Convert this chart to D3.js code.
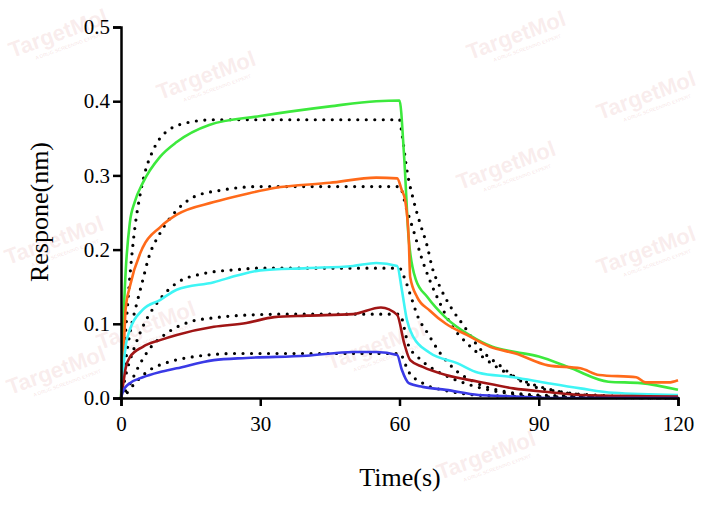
<!DOCTYPE html>
<html><head><meta charset="utf-8">
<script src="https://d3js.org/d3.v7.min.js"></script>
<style>body{margin:0;background:#fff}</style></head>
<body><svg id="c" width="716" height="506"></svg>
<script>
const xTicks=[0,30,60,90,120];
const yTicks=[0,0.1,0.2,0.3,0.4,0.5];
const seriesNames=["green","orange","cyan","darkred","blue"];
const green=[[0,0],[0.5,0.1],[1,0.17],[1.9,0.236],[3,0.265],[4.7,0.29],[8.4,0.325],[12,0.345],[19,0.368],[30,0.38],[45,0.393],[55,0.4],[60,0.401],[61,0.325],[62,0.213],[63.5,0.16],[66,0.136],[70,0.108],[75,0.085],[80,0.069],[85,0.062],[90,0.056],[97,0.04],[105,0.022],[112,0.02],[120,0.011]];
const orange=[[0,0],[0.5,0.05],[1,0.12],[1.9,0.15],[4.7,0.203],[8.4,0.23],[12,0.247],[20,0.264],[27,0.275],[33,0.283],[45,0.29],[55,0.297],[59.5,0.296],[60.5,0.28],[61.2,0.267],[62,0.213],[62.3,0.163],[63.8,0.136],[66.5,0.118],[70,0.1],[74.5,0.085],[79.5,0.069],[85,0.06],[92,0.044],[99,0.04],[103,0.031],[111,0.028],[113,0.021],[118,0.021],[120,0.024]];
const cyan=[[0,0],[0.5,0.04],[1,0.07],[1.9,0.092],[4.7,0.119],[8.4,0.132],[12,0.146],[20,0.156],[25,0.165],[30,0.172],[40,0.175],[50,0.178],[55,0.182],[59.5,0.178],[60.5,0.146],[61.6,0.105],[63,0.082],[66.5,0.061],[72.4,0.047],[77,0.034],[84.5,0.028],[92,0.02],[99,0.013],[106,0.007],[120,0.004]];
const darkred=[[0,0],[0.5,0.02],[1,0.04],[1.9,0.055],[4.7,0.069],[8.4,0.078],[12,0.085],[20,0.096],[27,0.101],[33,0.109],[40,0.111],[50,0.113],[56,0.122],[59.5,0.112],[61,0.074],[62.3,0.051],[65,0.042],[70,0.031],[77,0.022],[84.5,0.013],[92,0.008],[99,0.004],[120,0.002]];
const blue=[[0,0],[0.5,0.01],[1,0.015],[1.9,0.02],[4.7,0.028],[8.4,0.035],[12,0.04],[20,0.051],[27,0.054],[40,0.057],[50,0.062],[55,0.062],[59.5,0.058],[60.5,0.038],[62,0.02],[65,0.015],[70,0.011],[77,0.004],[85,0.002],[92,0],[120,0]];
const fitGreen=[[0,0],[1,0.09],[2,0.17],[3,0.23],[4,0.27],[5,0.3],[7,0.335],[10,0.36],[15,0.372],[20,0.375],[60,0.375],[60.5,0.357],[61.6,0.307],[63,0.267],[64.4,0.236],[66,0.204],[67,0.177],[68.7,0.15],[71,0.123],[74,0.096],[77,0.069],[82,0.042],[87,0.02],[95,0.008],[105,0.003],[120,0]];
const fitOrange=[[0,0],[1,0.05],[2,0.09],[3.3,0.125],[4.7,0.159],[6,0.19],[8.4,0.222],[12,0.253],[15.7,0.271],[21.5,0.28],[30,0.285],[60,0.285],[61.6,0.253],[63,0.226],[64.7,0.19],[66.5,0.159],[68.7,0.128],[71,0.1],[74.5,0.074],[78,0.055],[83,0.034],[88,0.02],[95,0.008],[105,0.002],[120,0]];
const fitCyan=[[0,0],[1,0.03],[3,0.07],[5,0.1],[8,0.13],[12,0.155],[18,0.168],[25,0.173],[30,0.175],[60,0.175],[61,0.163],[62.5,0.136],[64,0.109],[66,0.088],[68.7,0.061],[72,0.038],[76,0.022],[81,0.011],[90,0.004],[120,0]];
const fitRed=[[0,0],[2,0.02],[4,0.045],[6,0.065],[10,0.088],[15,0.103],[20,0.108],[28,0.112],[35,0.113],[60,0.113],[62,0.07],[64,0.055],[67,0.04],[70,0.03],[75,0.018],[80,0.01],[90,0.003],[120,0]];
const fitBlue=[[0,0],[1,0.005],[3,0.02],[6,0.037],[10,0.048],[15,0.055],[25,0.06],[60,0.06],[62,0.035],[65,0.02],[70,0.01],[80,0.003],[120,0]];

const svg=d3.select("#c");
const x=d3.scaleLinear().domain([0,120]).range([121,678]);
const y=d3.scaleLinear().domain([0,0.5]).range([398,27]);
const wm=[[12,58],[160,100],[470,60],[600,120],[460,190],[8,265],[600,275],[100,350],[330,370],[10,395],[440,480]];
wm.forEach(([a,b])=>{const g=svg.append("g").attr("transform",`translate(${a},${b}) rotate(-20)`);
 g.append("text").text("TargetMol").attr("font-family","Liberation Sans,Arial").attr("font-size",22).attr("font-weight","bold").attr("fill","rgba(225,160,160,0.2)");
 g.append("text").text("A DRUG SCREENING EXPERT").attr("x",22).attr("y",10).attr("font-family","Liberation Sans,Arial").attr("font-size",5).attr("fill","rgba(225,160,160,0.3)");});
const line=d3.line().x(d=>x(d[0])).y(d=>y(d[1])).curve(d3.curveMonotoneX);
const fits=[fitGreen,fitOrange,fitCyan,fitRed,fitBlue];
const data=[green,orange,cyan,darkred,blue];
const colors=["#3de93d","#ff6a1a","#3ff5f5","#a01515","#3a3ae6"];
fits.forEach(f=>svg.append("path").attr("d",line(f)).attr("fill","none").attr("stroke","#000").attr("stroke-width",3.2).attr("stroke-linecap","round").attr("stroke-dasharray","0 8.5"));
data.forEach((s,i)=>svg.append("path").attr("d",line(s)).attr("fill","none").attr("stroke",colors[i]).attr("stroke-width",2.6).attr("stroke-linejoin","round"));
const font="Liberation Serif, Times New Roman, serif";
const xa=svg.append("g").attr("transform","translate(0,398)").call(d3.axisBottom(x).tickValues(xTicks).tickSize(8).tickFormat(d3.format("d")));
const ya=svg.append("g").attr("transform","translate(121,0)").call(d3.axisLeft(y).tickValues(yTicks).tickSize(8).tickFormat(d3.format(".1f")));
[xa,ya].forEach(a=>{a.select(".domain").attr("stroke-width",2.5);a.selectAll(".tick line").attr("stroke-width",2.5);a.selectAll("text").attr("font-family",font).attr("font-size",21).attr("fill","#000");});
xa.selectAll("text").attr("dy","1.05em");
svg.append("text").text("Time(s)").attr("x",400).attr("y",486).attr("text-anchor","middle").attr("font-family",font).attr("font-size",26);
svg.append("text").text("Respone(nm)").attr("transform","translate(48,212) rotate(-90)").attr("text-anchor","middle").attr("font-family",font).attr("font-size",26);
</script></body></html>
